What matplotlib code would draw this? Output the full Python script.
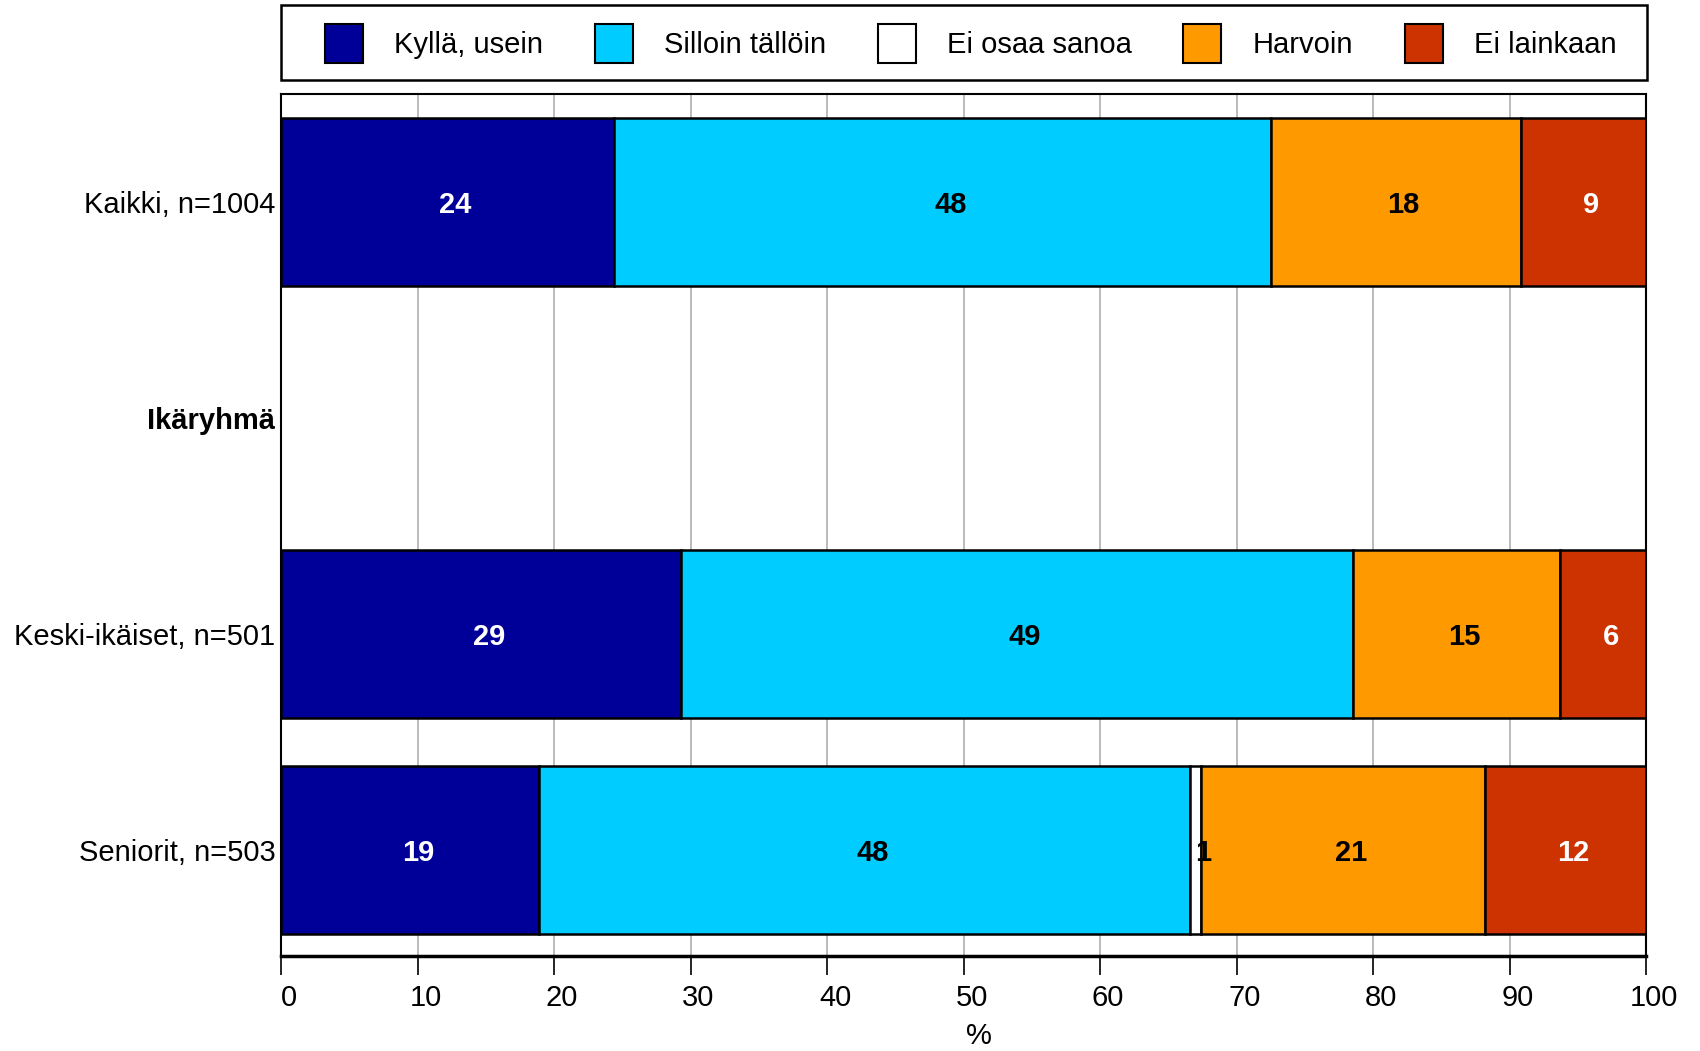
import numpy as np
import matplotlib
matplotlib.use("Agg")
import matplotlib.pyplot as plt
from matplotlib import patches as mpatches
from matplotlib.transforms import ScaledTranslation

plt.rcParams['font.family'] = ['Liberation Sans', 'DejaVu Sans']

groups = ["Kaikki, n=1004", "Ikäryhmä", "Keski-ikäiset, n=501", "Seniorit, n=503"]
series = ["Kyllä, usein", "Silloin tällöin", "Ei osaa sanoa", "Harvoin", "Ei lainkaan"]
colors = ["#000099", "#00CCFF", "#FFFFFF", "#FF9900", "#CC3300"]
text_colors = ["white", "black", "black", "black", "white"]

# percentages per series, one value per group (Ikäryhmä is a heading row)
kylla_usein = [24.4, 0, 29.3, 18.9]
silloin_talloin = [48.1, 0, 49.25, 47.7]
ei_osaa_sanoa = [0, 0, 0, 0.8]
harvoin = [18.3, 0, 15.15, 20.8]
ei_lainkaan = [9.2, 0, 6.3, 11.8]
values = [kylla_usein, silloin_talloin, ei_osaa_sanoa, harvoin, ei_lainkaan]

FS = 21

fig = plt.figure(figsize=(17, 10.51), dpi=100)
ax = fig.add_axes([0.1653, 0.0904, 0.8030, 0.8202])
shift = ScaledTranslation(0.08, -0.03, fig.dpi_scale_trans)

y = np.arange(len(groups))
left = np.zeros(len(groups))
for vals, col, tcol, lab in zip(values, colors, text_colors, series):
    vals = np.array(vals)
    keep = vals > 0
    ax.barh(y[keep], vals[keep], left=left[keep], height=0.775, color=col,
            edgecolor="black", linewidth=1.8, label=lab, zorder=3)
    for yi, v, l in zip(y[keep], vals[keep], left[keep]):
        ax.text(l + v / 2, yi, f"{v:.0f}", ha="center", va="center",
                fontsize=FS, fontweight="bold", color=tcol, zorder=4,
                transform=ax.transData + shift)
    left += vals

ax.set_xlim(0, 100)
ax.set_ylim(3.49, -0.5)
ax.set_xticks(np.arange(0, 101, 10))
ax.set_yticks(y)
ax.set_yticklabels(groups, fontsize=FS)
ax.get_yticklabels()[1].set_fontweight("bold")
ax.tick_params(axis="y", length=0, pad=4)
ax.tick_params(axis="x", length=14, width=1.2, labelsize=FS, pad=6, direction="out")
for t in ax.get_xticklabels():
    t.set_transform(t.get_transform() + ScaledTranslation(0.08, 0, fig.dpi_scale_trans))
ax.set_xlabel("%", fontsize=FS)
ax.xaxis.set_label_coords(0.511, -0.076)
ax.grid(axis="x", color="#a8a8a8", linewidth=1.1, zorder=0)
ax.set_axisbelow(True)
for s in ["top", "left", "right"]:
    ax.spines[s].set_linewidth(1.5)
ax.spines["bottom"].set_linewidth(2.5)

# legend box spanning the plot width above the axes
fig.patches.append(mpatches.Rectangle((0.1653, 0.9239), 0.8036, 0.0713,
                                      transform=fig.transFigure, facecolor="white",
                                      edgecolor="black", linewidth=1.8))
handles = [mpatches.Patch(facecolor=c, edgecolor="black", linewidth=1.5, label=s)
           for c, s in zip(colors, series)]
fig.legend(handles=handles, loc="center left", ncol=5,
           bbox_to_anchor=(0.1913, 0.9587), fontsize=FS, frameon=False,
           handlelength=1.3, handleheight=1.68, handletextpad=1.06,
           columnspacing=1.78, borderaxespad=0, borderpad=0)

fig.savefig("out.png", dpi=100)
